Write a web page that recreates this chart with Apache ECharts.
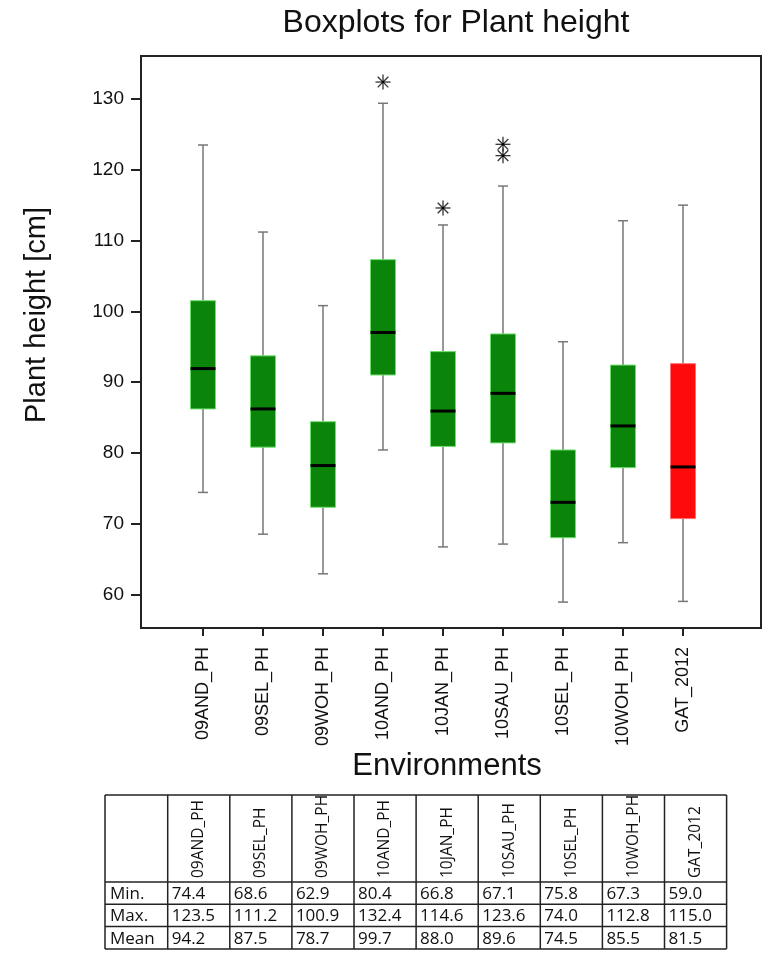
<!DOCTYPE html>
<html>
<head>
<meta charset="utf-8">
<script src="https://cdn.jsdelivr.net/npm/echarts@6/dist/echarts.min.js"></script>
<style>html,body{margin:0;padding:0;background:#fff;}#chart{width:774px;height:955px;}</style>
</head>
<body>
<div id="chart"></div>
<script>
// ---- data ----
const categories = ['09AND_PH','09SEL_PH','09WOH_PH','10AND_PH','10JAN_PH','10SAU_PH','10SEL_PH','10WOH_PH','GAT_2012'];
const whiskerLow  = [74.4, 68.5, 62.9, 80.4, 66.7, 67.1, 58.9, 67.3, 59.0];
const quartile1   = [86.2, 80.8, 72.3, 91.0, 80.9, 81.4, 68.0, 77.9, 70.7];
const medians     = [91.9, 86.2, 78.2, 97.0, 85.9, 88.4, 73.0, 83.8, 78.0];
const quartile3   = [101.5, 93.7, 84.4, 107.3, 94.3, 96.8, 80.4, 92.4, 92.6];
const whiskerHigh = [123.5, 111.2, 100.8, 129.4, 112.2, 117.7, 95.7, 112.8, 115.0];
const outlierCategory = ['10AND_PH','10JAN_PH','10SAU_PH','10SAU_PH'];
const outlierValue    = [132.4, 114.6, 123.6, 122.0];
const yTicks = [60, 70, 80, 90, 100, 110, 120, 130];
const tableRowLabels = ['Min.', 'Max.', 'Mean'];
const tableMin  = [74.4, 68.6, 62.9, 80.4, 66.8, 67.1, 75.8, 67.3, 59.0];
const tableMax  = [123.5, 111.2, 100.9, 132.4, 114.6, 123.6, 74.0, 112.8, 115.0];
const tableMean = [94.2, 87.5, 78.7, 99.7, 88.0, 89.6, 74.5, 85.5, 81.5];

// ---- styles ----
const highlightCategory = 'GAT_2012';
const greenFill = '#0a850a', greenEdge = '#6ede6e';
const redFill = '#ff0a0a', redEdge = '#ff7070';
const whiskerColor = '#777777';
const yMin = 55.24, yMax = 136.08;
const FONT = '"Liberation Sans", Arial, sans-serif';
const TFONT = '"Open Sans", Lato, sans-serif';

const boxData = categories.map((c, i) => [i, whiskerLow[i], quartile1[i], medians[i], quartile3[i], whiskerHigh[i]]);
const outlierData = outlierCategory.map((c, k) => [categories.indexOf(c), outlierValue[k]]);

function renderBox(params, api) {
  const i = api.value(0);
  const lo = api.coord([i, api.value(1)]);
  const b1 = api.coord([i, api.value(2)]);
  const md = api.coord([i, api.value(3)]);
  const b3 = api.coord([i, api.value(4)]);
  const hi = api.coord([i, api.value(5)]);
  const x = lo[0];
  const hw = 12.5, cw = 5;
  const isHi = categories[i] === highlightCategory;
  const ws = { stroke: whiskerColor, lineWidth: 1.5 };
  return {
    type: 'group',
    children: [
      { type: 'line', shape: { x1: x, y1: hi[1], x2: x, y2: b3[1] }, style: ws },
      { type: 'line', shape: { x1: x, y1: b1[1], x2: x, y2: lo[1] }, style: ws },
      { type: 'line', shape: { x1: x - cw, y1: hi[1], x2: x + cw, y2: hi[1] }, style: ws },
      { type: 'line', shape: { x1: x - cw, y1: lo[1], x2: x + cw, y2: lo[1] }, style: ws },
      { type: 'rect', shape: { x: x - hw, y: b3[1], width: 2 * hw, height: b1[1] - b3[1] },
        style: { fill: isHi ? redFill : greenFill, stroke: isHi ? redEdge : greenEdge, lineWidth: 1 } },
      { type: 'line', shape: { x1: x - hw, y1: md[1], x2: x + hw, y2: md[1] }, style: { stroke: '#000', lineWidth: 3 } }
    ]
  };
}

function renderStar(params, api) {
  const p = api.coord([api.value(0), api.value(1)]);
  const r = 7.5, d = r * Math.SQRT1_2;
  const st = { stroke: '#333', lineWidth: 1.3 };
  return {
    type: 'group',
    children: [
      { type: 'line', shape: { x1: p[0] - r, y1: p[1], x2: p[0] + r, y2: p[1] }, style: st },
      { type: 'line', shape: { x1: p[0], y1: p[1] - r, x2: p[0], y2: p[1] + r }, style: st },
      { type: 'line', shape: { x1: p[0] - d, y1: p[1] - d, x2: p[0] + d, y2: p[1] + d }, style: st },
      { type: 'line', shape: { x1: p[0] - d, y1: p[1] + d, x2: p[0] + d, y2: p[1] - d }, style: st },
      { type: 'circle', shape: { cx: p[0], cy: p[1], r: 1.3 }, style: { fill: '#000' } }
    ]
  };
}

// ---- table graphic ----
const tLeft = 105, tTop = 795, firstW = 62.7, colW = 62.1, headH = 87, rowH = 22.3;
const tRight = tLeft + firstW + colW * categories.length;
const tBottom = tTop + headH + rowH * tableRowLabels.length;
const tableValues = [tableMin, tableMax, tableMean];
const g = [];
categories.forEach((c, j) => {
  const cx = tLeft + firstW + colW * j + colW / 2;
  g.push({ type: 'text', x: cx, y: tTop + headH - 4, rotation: Math.PI / 2,
    style: { text: c, font: '15.5px ' + TFONT, fill: '#111', align: 'left', verticalAlign: 'middle' } });
});
tableRowLabels.forEach((lab, r) => {
  const cy = tTop + headH + rowH * r + rowH / 2 + 1;
  g.push({ type: 'text', x: tLeft + 5, y: cy, style: { text: lab, font: '17px ' + TFONT, fill: '#111', align: 'left', verticalAlign: 'middle' } });
  tableValues[r].forEach((v, j) => {
    g.push({ type: 'text', x: tLeft + firstW + colW * j + 4, y: cy,
      style: { text: v.toFixed(1), font: '17px ' + TFONT, fill: '#111', align: 'left', verticalAlign: 'middle' } });
  });
});
// mask overflow above table
g.push({ type: 'rect', shape: { x: tLeft, y: tTop - 14, width: tRight - tLeft, height: 13 }, style: { fill: '#fff' } });
const ls = { stroke: '#222', lineWidth: 1.5 };
[tTop, tTop + headH, tTop + headH + rowH, tTop + headH + 2 * rowH, tBottom].forEach(y => {
  g.push({ type: 'line', shape: { x1: tLeft, y1: y, x2: tRight, y2: y }, style: ls });
});
g.push({ type: 'line', shape: { x1: tLeft, y1: tTop, x2: tLeft, y2: tBottom }, style: ls });
for (let j = 0; j <= categories.length; j++) {
  const x = tLeft + firstW + colW * j;
  g.push({ type: 'line', shape: { x1: x, y1: tTop, x2: x, y2: tBottom }, style: ls });
}
// axis titles
g.push({ type: 'text', x: 37, y: 315, rotation: Math.PI / 2,
  style: { text: 'Plant height [cm]', font: '29px ' + FONT, fill: '#111', align: 'center', verticalAlign: 'middle' } });
g.push({ type: 'text', x: 447, y: 766,
  style: { text: 'Environments', font: '31px ' + FONT, fill: '#111', align: 'center', verticalAlign: 'middle' } });

const chart = echarts.init(document.getElementById('chart'), null, { renderer: 'canvas' });
chart.setOption({
  animation: false,
  backgroundColor: '#fff',
  title: {
    text: 'Boxplots for Plant height', left: 451, top: 2, textAlign: 'center',
    textStyle: { fontFamily: FONT, fontSize: 32, fontWeight: 'normal', color: '#111' }
  },
  grid: [
    { left: 141, top: 56, width: 620, height: 572, show: true, borderColor: '#222', borderWidth: 2, backgroundColor: 'transparent' },
    { left: 173, top: 56, width: 540, height: 572 }
  ],
  xAxis: [
    { gridIndex: 0, type: 'value', min: 0, max: 1, axisLine: { show: false }, axisTick: { show: false },
      axisLabel: { show: false }, splitLine: { show: false } },
    { gridIndex: 1, type: 'category', data: categories, boundaryGap: true,
      axisLine: { show: false },
      axisTick: { show: true, alignWithLabel: true, inside: false, length: 8, lineStyle: { color: '#222', width: 2 } },
      axisLabel: { rotate: 90, margin: 19, fontFamily: FONT, fontSize: 18, color: '#111', interval: 0 },
      splitLine: { show: false } }
  ],
  yAxis: [
    { gridIndex: 0, type: 'value', min: yMin, max: yMax,
      axisLine: { show: false },
      axisTick: { show: true, inside: false, length: 10, customValues: yTicks, lineStyle: { color: '#222', width: 2 } },
      axisLabel: { customValues: yTicks, margin: 17, fontFamily: FONT, fontSize: 19, color: '#111' },
      splitLine: { show: false } },
    { gridIndex: 1, type: 'value', min: yMin, max: yMax, show: false, splitLine: { show: false } }
  ],
  series: [
    { type: 'custom', name: 'Plant height', xAxisIndex: 1, yAxisIndex: 1, data: boxData,
      encode: { x: 0, y: [1, 2, 3, 4, 5] }, renderItem: renderBox, clip: false },
    { type: 'custom', name: 'Outliers', xAxisIndex: 1, yAxisIndex: 1, data: outlierData,
      encode: { x: 0, y: 1 }, renderItem: renderStar }
  ],
  graphic: { elements: g }
});
</script>
</body>
</html>
